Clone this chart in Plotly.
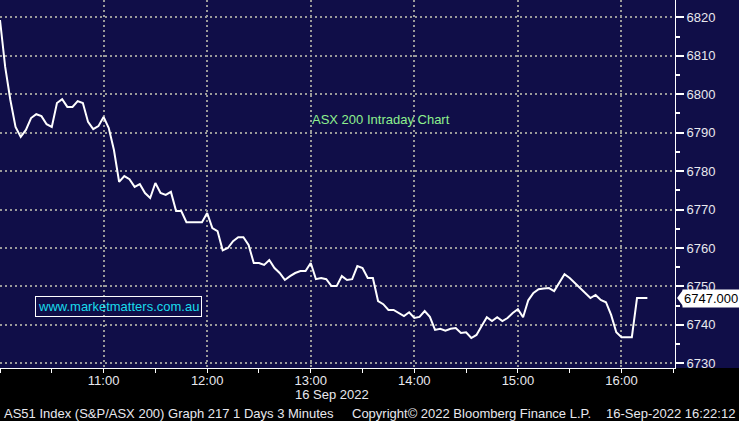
import pandas as pd
import plotly.graph_objects as go

# ASX 200 intraday, 3-minute bars from 10:00
values = [
    6819.3, 6807.1, 6798.5, 6791.5, 6788.9, 6790.7, 6793.8, 6794.8, 6794.3, 6792.2,
    6791.5, 6797.7, 6798.7, 6796.7, 6796.7, 6798.2, 6797.7, 6792.8, 6790.9, 6791.7,
    6794.1, 6791.2, 6785.5, 6777.2, 6778.7, 6777.9, 6775.9, 6776.6, 6774.3, 6773.0,
    6776.9, 6774.3, 6773.8, 6774.6, 6769.6, 6769.6, 6766.7, 6766.7, 6766.7, 6766.7,
    6769.1, 6765.2, 6764.4, 6759.4, 6760.0, 6761.8, 6762.8, 6762.8, 6760.8, 6756.1,
    6756.1, 6755.6, 6756.9, 6754.8, 6753.5, 6751.7, 6752.7, 6753.5, 6754.0, 6754.0,
    6756.1, 6751.9, 6752.2, 6751.9, 6750.1, 6750.1, 6752.7, 6751.7, 6751.9, 6755.3,
    6754.8, 6752.2, 6752.2, 6746.2, 6745.4, 6743.9, 6743.9, 6743.1, 6742.3, 6743.3,
    6741.8, 6742.1, 6743.6, 6742.1, 6738.7, 6739.0, 6738.5, 6739.0, 6739.2, 6737.9,
    6738.1, 6736.6, 6737.4, 6739.7, 6742.0, 6741.0, 6742.0, 6741.0, 6741.8, 6743.1,
    6744.1, 6742.0, 6746.4, 6748.3, 6749.3, 6749.5, 6749.6, 6748.8, 6751.1, 6753.2,
    6752.2, 6750.9, 6749.8, 6748.3, 6747.0, 6747.8, 6746.5, 6745.9, 6742.6, 6738.1,
    6736.8, 6736.8, 6736.8, 6747.0, 6747.0, 6747.0,
]
times = pd.date_range("2022-09-16 10:00", periods=len(values), freq="3min")

y_ticks = [6730, 6740, 6750, 6760, 6770, 6780, 6790, 6800, 6810, 6820]
last_label = "6747.000"
last_value = 6747.0

NAVY = "#100e48"
GRID = "#9a9a9a"
FONT = "Liberation Sans"
TXT = "#e8e8ee"

fig = go.Figure()
fig.add_trace(go.Scatter(
    x=times, y=values, mode="lines",
    line=dict(color="white", width=2), hoverinfo="skip", showlegend=False,
))

fig.update_layout(
    width=739, height=421,
    margin=dict(l=0, r=64, t=0, b=53, autoexpand=False),
    paper_bgcolor="black",
    plot_bgcolor=NAVY,
    showlegend=False,
    font=dict(family=FONT, size=13, color=TXT),
)

fig.update_xaxes(
    range=["2022-09-16 10:00", "2022-09-16 16:31"],
    tickformat="%H:%M",
    dtick=3600000,
    tick0="2022-09-16 10:00",
    automargin=False,
    showgrid=True, gridcolor=GRID, gridwidth=2, griddash="2px,3px",
    showline=True, linecolor="white", linewidth=1,
    ticks="outside", ticklen=4, tickcolor="white",
    ticklabelstandoff=-4,
    minor=dict(dtick=1800000, ticks="outside", ticklen=4, tickcolor="white", showgrid=False),
    tickfont=dict(family=FONT, size=13, color=TXT),
    zeroline=False,
)
fig.update_yaxes(
    side="right",
    range=[6728.8, 6824.5],
    tickvals=y_ticks,
    automargin=False,
    showgrid=True, gridcolor=GRID, gridwidth=2, griddash="2px,3px",
    showline=True, linecolor="white", linewidth=1,
    ticks="outside", ticklen=8, tickwidth=2, tickcolor="white",
    minor=dict(dtick=5, tick0=6730, ticks="outside", ticklen=4, tickcolor="white", showgrid=False),
    tickfont=dict(family=FONT, size=13, color=TXT),
    zeroline=False,
)

# navy strip behind right axis labels
fig.add_shape(type="rect", xref="paper", yref="paper", x0=1, x1=739 / 675, y0=0, y1=1,
              fillcolor=NAVY, line=dict(width=0), layer="below")

# last price tag
fig.add_annotation(xref="paper", yref="y", x=1, y=last_value, xanchor="left", yanchor="middle",
                   xshift=7, text=last_label, showarrow=False, bgcolor="white",
                   font=dict(family=FONT, size=13, color="black"), borderpad=1)
fig.add_shape(type="path", xref="paper", yref="y",
              path=f"M {1 + 2/675},{last_value} L {1 + 8/675},{last_value + 2.1} L {1 + 8/675},{last_value - 2.1} Z",
              fillcolor="white", line=dict(width=0))

fig.add_annotation(xref="paper", yref="paper", x=381 / 675, y=1 - 119 / 368,
                   xanchor="center", yanchor="middle",
                   text="ASX 200 Intraday Chart", showarrow=False,
                   font=dict(family=FONT, size=13, color="#8ef08e"))
fig.add_annotation(xref="paper", yref="paper", x=118 / 675, y=1 - 306.5 / 368,
                   xanchor="center", yanchor="middle",
                   text="www.marketmatters.com.au", showarrow=False,
                   font=dict(family=FONT, size=13, color="#19dcec"),
                   bordercolor="white", borderwidth=1, borderpad=2)

fig.add_annotation(xref="paper", yref="paper", x=293 / 675, y=-26.5 / 368,
                   xanchor="left", yanchor="middle",
                   text="16 Sep 2022", showarrow=False,
                   font=dict(family=FONT, size=13, color=TXT))
fig.add_annotation(xref="paper", yref="paper", x=2 / 675, y=-45 / 368,
                   xanchor="left", yanchor="middle",
                   text="AS51 Index (S&P/ASX 200) Graph 217 1 Days 3 Minutes", showarrow=False,
                   font=dict(family=FONT, size=13, color=TXT))
fig.add_annotation(xref="paper", yref="paper", x=350 / 675, y=-45 / 368,
                   xanchor="left", yanchor="middle",
                   text="Copyright© 2022 Bloomberg Finance L.P.", showarrow=False,
                   font=dict(family=FONT, size=13, color=TXT))
fig.add_annotation(xref="paper", yref="paper", x=737 / 675, y=-45 / 368,
                   xanchor="right", yanchor="middle",
                   text="16-Sep-2022 16:22:12", showarrow=False,
                   font=dict(family=FONT, size=13, color=TXT))

fig.write_html("out.html", config={"displayModeBar": False},
               post_script="document.body.style.margin='0px';")
